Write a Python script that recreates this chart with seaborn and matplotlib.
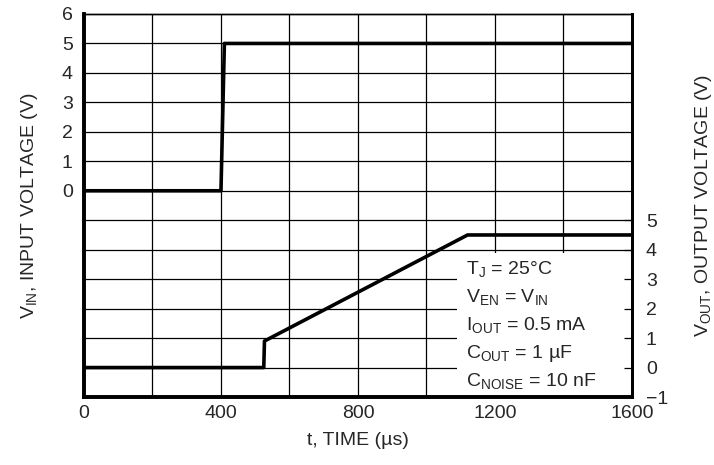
import matplotlib
matplotlib.use("Agg")
import matplotlib.pyplot as plt
import seaborn as sns
import pandas as pd
from matplotlib.patches import Rectangle

# Daten
time_vin = [0, 400, 410, 1600]
vin = [0, 0, 5, 5]

time_vout = [0, 525, 527, 1120, 1600]
vout = [0, 0, 0.9, 4.5, 4.5]

x_ticks = [0, 200, 400, 600, 800, 1000, 1200, 1400, 1600]
x_ticklabels = ["0", "", "400", "", "800", "", "1200", "", "1600"]
vin_ticks = [0, 1, 2, 3, 4, 5, 6]
vout_ticks = [-1, 0, 1, 2, 3, 4, 5]

conditions = [
    r"T$_{\mathregular{J}}$ = 25°C",
    r"V$_{\mathregular{EN}}$ = V$_{\mathregular{IN}}$",
    r"I$_{\mathregular{OUT}}$ = 0.5 mA",
    r"C$_{\mathregular{OUT}}$ = 1 µF",
    r"C$_{\mathregular{NOISE}}$ = 10 nF",
]

df_vin = pd.DataFrame({"t": time_vin, "v": vin})
df_vout = pd.DataFrame({"t": time_vout, "v": vout})

sns.set_style("white")
plt.rcParams["font.family"] = ["Liberation Sans", "DejaVu Sans"]
plt.rcParams["mathtext.fontset"] = "custom"
plt.rcParams["mathtext.rm"] = "Liberation Sans"
plt.rcParams["mathtext.it"] = "Liberation Sans"

fs = 14

fig = plt.figure(figsize=(7.14, 4.65), dpi=100)
ax = fig.add_axes([0.1176, 0.1462, 0.7675, 0.8237])
ax2 = ax.twinx()
ax2.set_position(ax.get_position())

# gitter von Hand, damit der Textkasten es abdecken kann
for xv in x_ticks[1:-1]:
    ax.axvline(xv, color="black", lw=0.9, zorder=0.5)
for yv in range(-6, 6):
    ax.axhline(yv, color="black", lw=0.9, zorder=0.5)

# weißer Kasten hinter den Bedingungen
ax.add_patch(Rectangle((0.681, 0.0), 0.319, 0.376, transform=ax.transAxes,
                       facecolor="white", edgecolor="none", zorder=1))

# Eingangsspannung
sns.lineplot(data=df_vin, x="t", y="v", ax=ax, color="black", lw=2.6,
             estimator=None, sort=False, zorder=3)
# Ausgangsspannung
sns.lineplot(data=df_vout, x="t", y="v", ax=ax2, color="black", lw=2.6,
             estimator=None, sort=False, zorder=3)

ax.set_xlim(0, 1600)
ax.set_ylim(-7, 6)
ax2.set_ylim(-1, 12)

ax.set_xticks(x_ticks)
ax.set_xticklabels(x_ticklabels)
ax.set_yticks(vin_ticks)
ax.set_yticklabels([str(v) for v in vin_ticks])
ax2.set_yticks(vout_ticks)
ax2.set_yticklabels([str(v).replace("-", "\u2212") for v in vout_ticks])

ax.tick_params(axis="x", direction="in", length=4, width=0.9, pad=6,
               labelsize=fs, color="black")
ax.tick_params(axis="y", length=0, pad=8, labelsize=fs)
ax2.tick_params(axis="y", direction="in", length=6, width=0.9, pad=10,
                labelsize=fs, color="black")

ax.set_xlabel("t, TIME (µs)", fontsize=fs, labelpad=7)
ax.set_ylabel(r"V$_{\mathregular{IN}}$, INPUT VOLTAGE (V)", fontsize=fs, labelpad=16)
ax2.set_ylabel(r"V$_{\mathregular{OUT}}$, OUTPUT VOLTAGE (V)", fontsize=fs, labelpad=18)

for a in (ax, ax2):
    for s in a.spines.values():
        s.set_color("black")
    a.spines["left"].set_linewidth(2.6)
    a.spines["bottom"].set_linewidth(2.6)
    a.spines["right"].set_linewidth(2.0)
    a.spines["top"].set_linewidth(1.0)
    a.grid(False)
ax2.patch.set_visible(False)

# Bedingungen als Text
for i, txt in enumerate(conditions):
    ax2.text(0.698, 0.335 - i * 0.0735, txt, transform=ax2.transAxes,
             fontsize=fs, va="center", ha="left", zorder=5)

fig.savefig("out.png", dpi=100)
